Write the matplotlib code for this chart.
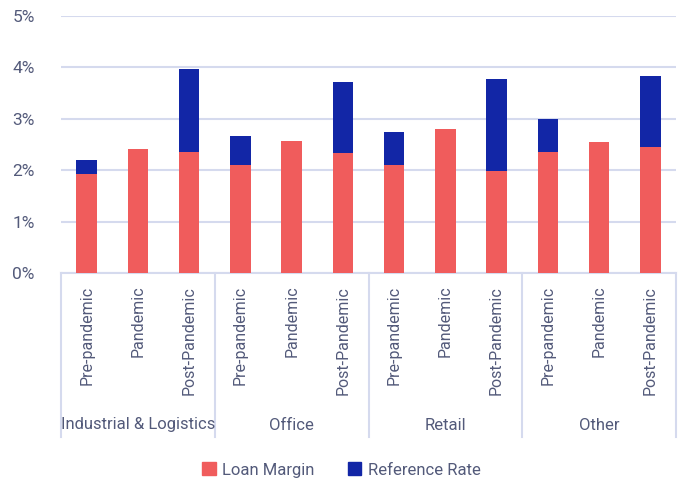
import numpy as np
import matplotlib.pyplot as plt
from matplotlib.lines import Line2D
from matplotlib.patches import Patch

plt.rcParams['font.family'] = ['Roboto', 'DejaVu Sans']

# Loan pricing by sector and period (%)
sectors = ['Industrial & Logistics', 'Office', 'Retail', 'Other']
periods = ['Pre-pandemic', 'Pandemic', 'Post-Pandemic']
loan_margin = [1.93, 2.42, 2.35,
               2.11, 2.58, 2.33,
               2.11, 2.81, 1.99,
               2.35, 2.55, 2.46]
reference_rate = [0.27, 0.0, 1.62,
                  0.56, 0.0, 1.39,
                  0.63, 0.0, 1.78,
                  0.64, 0.0, 1.38]

red = '#F05C5C'
blue = '#1226A6'
grid_col = '#D5DAEE'
text_col = '#535A7A'

fig = plt.figure(figsize=(6.83, 4.84), dpi=100)
ax = fig.add_axes([61 / 683, 1 - 273.3 / 484, 615 / 683, 257.3 / 484])

x = np.arange(len(loan_margin))
ax.bar(x, loan_margin, width=0.4, color=red, linewidth=0, zorder=3)
ax.bar(x, reference_rate, width=0.4, bottom=loan_margin, color=blue, linewidth=0, zorder=3)

ax.set_xlim(-0.5, len(x) - 0.5)
ax.set_ylim(0, 5)
ax.set_yticks(range(6))
ax.set_yticklabels([f'{v}%' for v in range(6)], fontsize=12.5, color=text_col)
ax.yaxis.grid(True, color=grid_col, linewidth=1.5, zorder=0)
ax.tick_params(axis='y', length=0, pad=19)
ax.tick_params(axis='x', length=0, pad=9)
ax.set_xticks(x)
ax.set_xticklabels(periods * len(sectors), rotation=90, fontsize=11.5, color=text_col,
                   va='top')

for s in ['top', 'right', 'left']:
    ax.spines[s].set_visible(False)
ax.spines['bottom'].set_color(grid_col)
ax.spines['bottom'].set_linewidth(1.5)

# group separators and sector names under the axis
depth = -(437 - 273.3) / 257.3
n = len(periods)
for g in range(len(sectors) + 1):
    xs = g * n - 0.5
    ax.add_line(Line2D([xs, xs], [0, depth], transform=ax.get_xaxis_transform(),
                       color=grid_col, linewidth=1.5, clip_on=False))
for g, name in enumerate(sectors):
    ax.text(g * n + 1, -(425 - 273.3) / 257.3, name, transform=ax.get_xaxis_transform(),
            ha='center', va='center', fontsize=12, color=text_col)

handles = [Patch(color=red, label='Loan Margin'), Patch(color=blue, label='Reference Rate')]
fig.legend(handles=handles, loc='center', bbox_to_anchor=(0.5, 1 - 470 / 484), ncol=2,
           frameon=False, fontsize=12, labelcolor=text_col, handlelength=0.8,
           handleheight=0.8, handletextpad=0.4, columnspacing=2.0)

fig.savefig('out.png', dpi=100)
